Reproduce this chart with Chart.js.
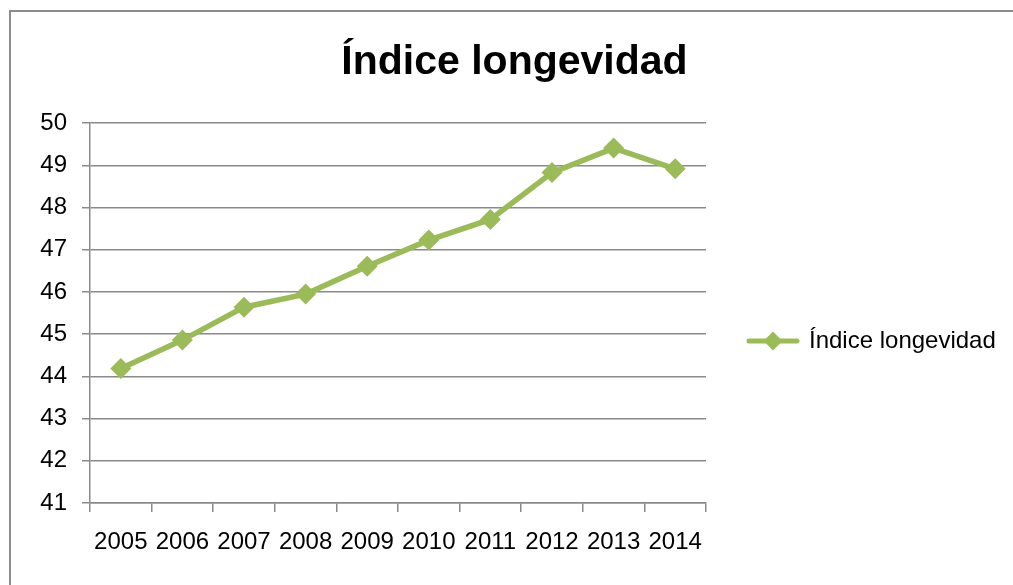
<!DOCTYPE html>
<html>
<head>
<meta charset="utf-8">
<script src="https://cdn.jsdelivr.net/npm/chart.js@4.4.1/dist/chart.umd.min.js"></script>
<style>
  html, body { margin: 0; padding: 0; background: #ffffff; }
  #wrap { width: 1013px; height: 585px; position: relative; }
</style>
</head>
<body>
<div id="wrap"><canvas id="c" width="1013" height="585"></canvas></div>
<script>
const titleText = "Índice longevidad";
const seriesName = "Índice longevidad";
const years = ["2005", "2006", "2007", "2008", "2009", "2010", "2011", "2012", "2013", "2014"];
const values = [44.19, 44.86, 45.64, 45.95, 46.61, 47.23, 47.72, 48.83, 49.41, 48.92];
const yMin = 41, yMax = 50, yStep = 1;

const FONT = "'Liberation Sans Narrow', 'Arial Narrow', 'Liberation Sans', Arial, sans-serif";
const GREEN = "#9bbb59";
const GRID = "#8a8a8a";
const LEGEND_W = 307;
const LEGEND_CY = 341;

// legend sample: line with diamond
const sample = document.createElement('canvas');
sample.width = 54; sample.height = 22;
(function () {
  const g = sample.getContext('2d');
  g.strokeStyle = GREEN; g.lineWidth = 5; g.lineCap = 'round';
  g.beginPath(); g.moveTo(3, 11); g.lineTo(51, 11); g.stroke();
  g.fillStyle = GREEN;
  g.beginPath(); g.moveTo(27, 1.5); g.lineTo(36.5, 11); g.lineTo(27, 20.5); g.lineTo(17.5, 11); g.closePath(); g.fill();
})();

const frame = {
  id: 'frame',
  beforeLayout(chart) {
    const lg = chart.legend;
    if (lg && !lg._fixedWidth) {
      const origFit = lg.fit;
      lg.fit = function () {
        this.maxWidth = 2000;
        origFit.call(this);
        this.width = LEGEND_W;
      };
      lg._fixedWidth = true;
    }
  },
  afterLayout(chart) {
    const lg = chart.legend;
    if (lg) {
      const h = lg.bottom - lg.top;
      lg.top = LEGEND_CY - h / 2;
      lg.bottom = lg.top + h;
    }
  },
  beforeDraw(chart) {
    const ctx = chart.ctx;
    ctx.save();
    ctx.fillStyle = '#ffffff';
    ctx.fillRect(0, 0, chart.width, chart.height);
    ctx.strokeStyle = '#8c8c8c';
    ctx.lineWidth = 2;
    ctx.strokeRect(10, 11, 1100, 700);
    ctx.restore();
  }
};

new Chart(document.getElementById('c'), {
  type: 'line',
  data: {
    labels: years,
    datasets: [{
      label: seriesName,
      data: values,
      borderColor: GREEN,
      backgroundColor: GREEN,
      borderWidth: 5.5,
      pointStyle: 'rectRot',
      pointRadius: 10.5,
      pointBorderWidth: 0,
      pointBackgroundColor: GREEN,
      tension: 0
    }]
  },
  options: {
    responsive: false,
    animation: false,
    events: [],
    layout: { padding: { left: 16, right: 0, top: 0, bottom: 26 } },
    plugins: {
      tooltip: { enabled: false },
      title: {
        display: true,
        text: titleText,
        color: '#000000',
        font: { family: FONT, size: 41, weight: 'bold' },
        padding: { top: 38, bottom: 36 }
      },
      legend: {
        display: true,
        position: 'right',
        align: 'center',
        labels: {
          color: '#000000',
          font: { family: FONT, size: 24 },
          usePointStyle: true,
          pointStyleWidth: 48,
          padding: 43,
          generateLabels(chart) {
            return [{ text: seriesName, pointStyle: sample, fillStyle: GREEN, strokeStyle: GREEN, lineWidth: 0, datasetIndex: 0, hidden: false, fontColor: '#000000' }];
          }
        }
      }
    },
    scales: {
      x: {
        type: 'category',
        offset: true,
        grid: { display: true, offset: true, drawOnChartArea: false, drawTicks: true, tickLength: 9, color: GRID, lineWidth: 1.5 },
        border: { display: true, color: GRID, width: 1.5 },
        ticks: { color: '#000000', font: { family: FONT, size: 24 }, padding: 16, maxRotation: 0, autoSkip: false },
        afterFit(s) { s.height = 56; }
      },
      y: {
        type: 'linear',
        min: yMin, max: yMax,
        grid: { color: GRID, lineWidth: 1.5, tickLength: 8, drawTicks: true },
        border: { display: true, color: GRID, width: 1.5 },
        ticks: { stepSize: yStep, color: '#000000', font: { family: FONT, size: 24 }, padding: 15 },
        afterFit(s) { s.width = 74; }
      }
    }
  },
  plugins: [frame]
});
</script>
</body>
</html>
